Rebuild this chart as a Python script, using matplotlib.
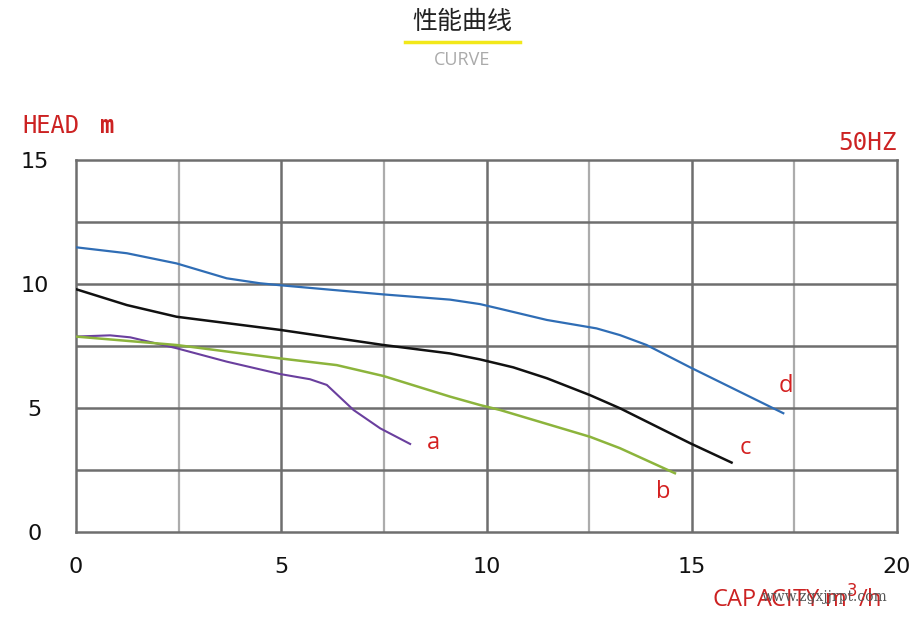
import matplotlib
matplotlib.use("Agg")
import matplotlib.pyplot as plt

plt.rcParams['font.family'] = ['Noto Sans CJK SC', 'DejaVu Sans']

# Data
a_x = [0.0, 0.83, 1.32, 2.45, 3.67, 4.97, 5.7, 6.11, 6.76, 7.41, 8.14]
a_y = [7.88, 7.93, 7.85, 7.41, 6.87, 6.37, 6.16, 5.93, 4.92, 4.18, 3.55]

b_x = [0.0, 2.45, 4.97, 6.35, 7.49, 9.11, 9.84, 10.33, 12.52, 13.25, 14.59]
b_y = [7.88, 7.54, 7.0, 6.73, 6.29, 5.46, 5.12, 4.92, 3.84, 3.38, 2.37]

c_x = [0.0, 1.24, 2.45, 4.97, 7.49, 9.11, 9.84, 10.65, 11.47, 12.52, 13.25, 14.96, 15.97]
c_y = [9.79, 9.15, 8.68, 8.15, 7.54, 7.2, 6.96, 6.64, 6.2, 5.52, 4.99, 3.58, 2.8]

d_x = [0.0, 1.24, 2.45, 3.67, 4.48, 4.97, 7.49, 9.11, 9.84, 10.33, 11.47, 12.68, 13.25, 13.9, 14.96, 17.23]
d_y = [11.48, 11.24, 10.83, 10.23, 10.03, 9.95, 9.58, 9.37, 9.19, 9.0, 8.55, 8.21, 7.94, 7.54, 6.64, 4.79]

curve_labels = ['a', 'b', 'c', 'd']
label_pos_x = [8.7, 14.3, 16.3, 17.3]
label_pos_y = [3.6, 1.6, 3.4, 5.9]

x_ticks = [0, 5, 10, 15, 20]
y_ticks = [0, 5, 10, 15]

fig = plt.figure(figsize=(9.2, 6.2), dpi=100)
ax = fig.add_axes([76/920, 88/620, 821/920, 372/620])
ax.set_xlim(0, 20)
ax.set_ylim(0, 15)

dark = '#6e6e6e'
light = '#acacac'
for xv in [2.5, 7.5, 12.5, 17.5]:
    ax.axvline(xv, color=light, lw=1.6, zorder=1)
for xv in [5, 10, 15]:
    ax.axvline(xv, color=dark, lw=1.8, zorder=1)
for yv in [2.5, 5, 7.5, 10, 12.5]:
    ax.axhline(yv, color=dark, lw=1.8, zorder=1)
for s in ax.spines.values():
    s.set_color(dark)
    s.set_linewidth(1.8)

ax.plot(a_x, a_y, color='#6a3f9e', lw=1.5, zorder=3)
ax.plot(b_x, b_y, color='#8cb43c', lw=1.8, zorder=3)
ax.plot(c_x, c_y, color='#111111', lw=1.8, zorder=3)
ax.plot(d_x, d_y, color='#2f6db5', lw=1.6, zorder=3)

for t, lx, ly in zip(curve_labels, label_pos_x, label_pos_y):
    ax.text(lx, ly, t, color='#d42020', fontsize=17, ha='center', va='center',
            family=['Open Sans', 'DejaVu Sans'])

ax.set_xticks(x_ticks)
ax.set_yticks(y_ticks)
ax.set_xticklabels([str(v) for v in x_ticks], family=['DejaVu Sans'], fontsize=16)
ax.set_yticklabels([str(v) for v in y_ticks], family=['DejaVu Sans'], fontsize=16)
ax.tick_params(length=0, colors='#111111')
ax.tick_params(axis='x', pad=18)
ax.tick_params(axis='y', pad=30)
for lab in ax.get_yticklabels():
    lab.set_horizontalalignment('center')

# Titles
fig.text(462/920, 1 - 22/620, '性能曲线', ha='center', va='center', fontsize=18, color='#222222')
fig.add_artist(plt.Line2D([405/920, 520/920], [1 - 42/620, 1 - 42/620], color='#f2e81a', lw=2.5))
fig.text(462/920, 1 - 60/620, 'CURVE', ha='center', va='center', fontsize=13, color='#aaaaaa',
         family=['Open Sans', 'DejaVu Sans'])

fig.text(22/920, 1 - 126/620, 'HEAD', ha='left', va='center', fontsize=17, color='#cc2222',
         family=['DejaVu Sans Mono'])
fig.text(100/920, 1 - 126/620, 'm', ha='left', va='center', fontsize=17, color='#cc2222',
         family=['DejaVu Sans Mono'], fontweight='bold')
fig.text(897/920, 1 - 143/620, '50HZ', ha='right', va='center', fontsize=17.5, color='#cc2222',
         family=['DejaVu Sans Mono'])
fig.text(712/920, 1 - 600/620, 'CAPACITY m$^3$/h', ha='left', va='center', fontsize=17,
         color='#cc2222', family=['Open Sans', 'DejaVu Sans'])
fig.text(762/920, 1 - 597/620, 'www.zgxjjrpt.com', ha='left', va='center', fontsize=10,
         color='#555555', family=['DejaVu Serif'])

fig.savefig('out.png', dpi=100, facecolor='white')
